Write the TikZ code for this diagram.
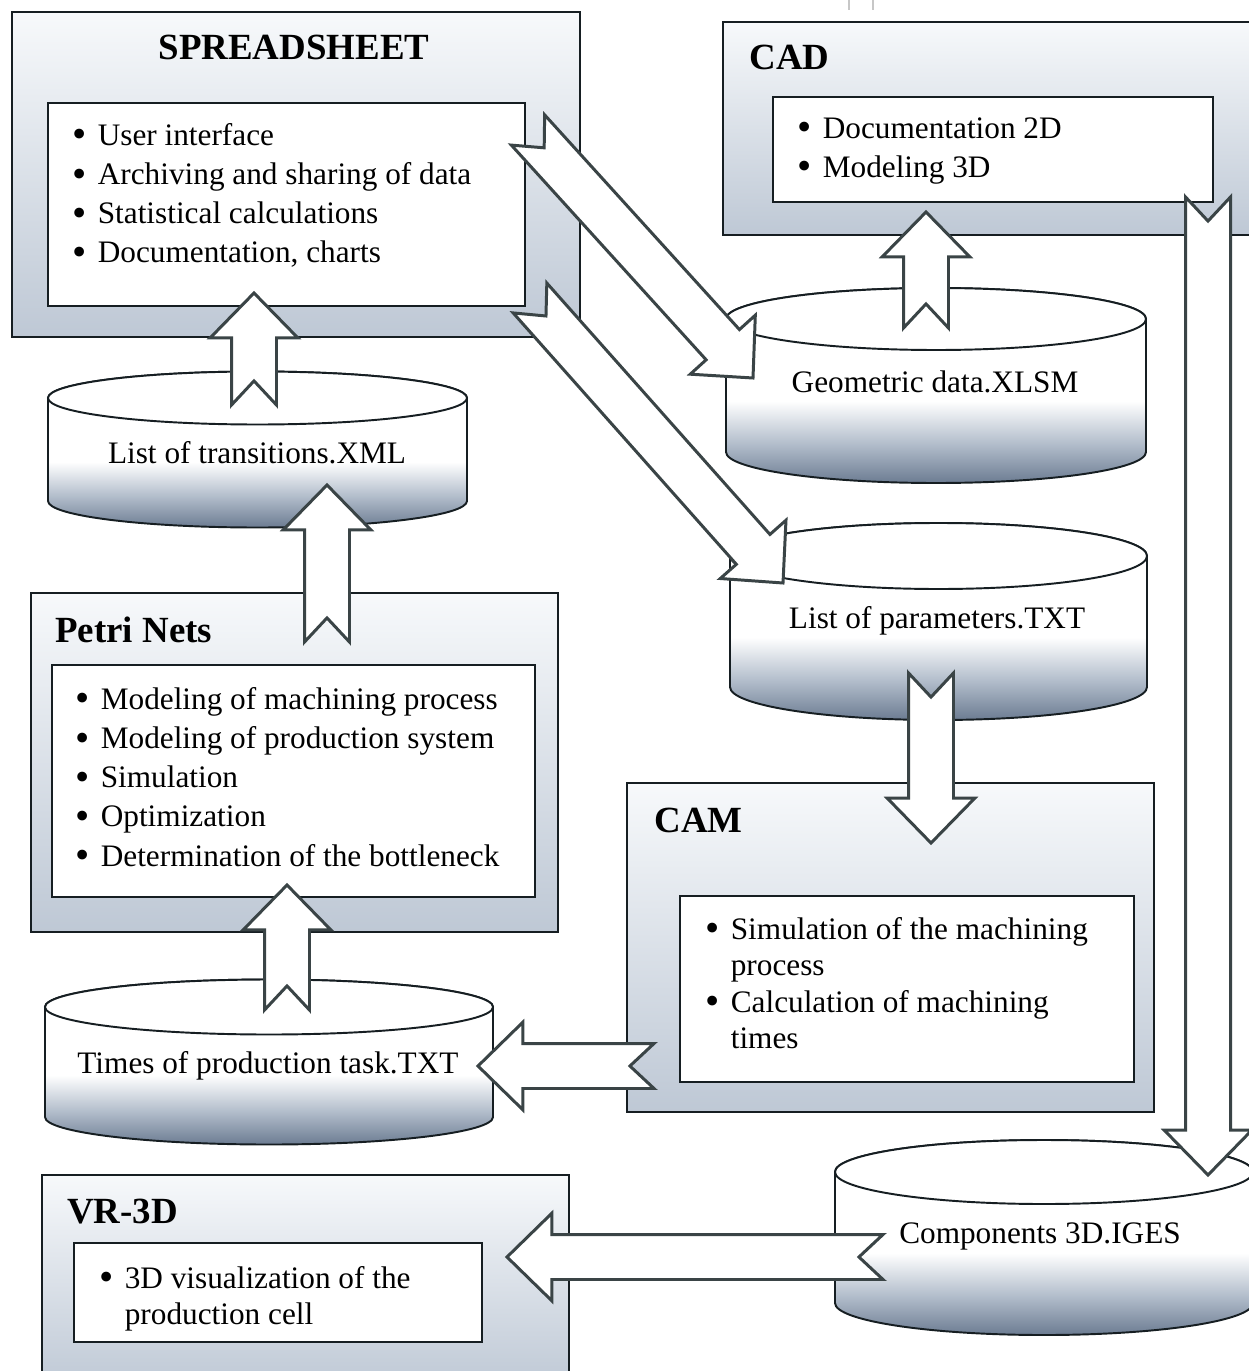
\documentclass[tikz,border=0pt]{standalone}
\usepackage{fontspec}
\usepackage{graphicx}
\setmainfont{Liberation Serif}
\usetikzlibrary{calc,fit}

\definecolor{boxtop}{RGB}{247,249,251}
\definecolor{boxbottom}{RGB}{190,200,213}
\definecolor{cylgray}{RGB}{108,124,146}
\definecolor{cylmid}{RGB}{178,189,203}
\definecolor{arrowgray}{RGB}{58,68,70}
\definecolor{edgegray}{RGB}{22,30,34}

\pgfdeclareverticalshading{cylshade}{100bp}{color(0bp)=(cylgray); color(25bp)=(cylgray); color(35bp)=(cylmid); color(46bp)=(white); color(100bp)=(white)}

\newcommand{\bul}{\makebox[14.5pt][l]{\raisebox{-1.4pt}{\scalebox{1.3}{\textbullet}}}}
\newcommand{\nobul}{\hspace*{14.5pt}}

% block arrow with a notched tail, from #1 (tail) to #2 (tip)
\newcommand{\notcharrow}[2]{%
  \path let \p1 = ($(#2)-(#1)$) in
    \pgfextra{%
      \pgfmathsetmacro{\arrang}{atan2(\y1,\x1)}%
      \pgfmathsetmacro{\arrlen}{veclen(\x1,\y1)}%
      \pgfmathsetmacro{\arrbase}{\arrlen-25.6}%
      \xdef\arrang{\arrang}\xdef\arrlen{\arrlen}\xdef\arrbase{\arrbase}};
  \draw[blockarrow, shift={(#1)}, rotate=\arrang]
    (0pt,12.8pt) -- (\arrbase pt,12.8pt) -- (\arrbase pt,25pt) -- (\arrlen pt,0pt)
    -- (\arrbase pt,-25pt) -- (\arrbase pt,-12.8pt) -- (0pt,-12.8pt) -- (13.7pt,0pt) -- cycle;}

% cylinder: centre x, top y, bottom y, x radius, y radius
\newcommand{\datastore}[5]{%
  \path[draw=edgegray, line width=1.1pt, shade, shading=cylshade]
    ({#1-#4},#2) -- ({#1-#4},#3) arc[start angle=180, end angle=0, x radius=#4, y radius=#5]
    -- ({#1+#4},#2) arc[start angle=0, end angle=-180, x radius=#4, y radius=#5] -- cycle;
  \draw[draw=edgegray, line width=1.1pt, fill=white] (#1,#2) ellipse[x radius=#4, y radius=#5];}

\begin{document}
\begin{tikzpicture}[x=0.02cm, y=-0.02cm, every node/.style={inner sep=0pt},
  outerbox/.style={draw=edgegray, line width=1.5pt, top color=boxtop, bottom color=boxbottom},
  innerbox/.style={draw=edgegray, line width=1.1pt, fill=white},
  title/.style={font=\fontsize{21}{25}\selectfont\bfseries},
  bullets/.style={align=left, anchor=north west, font=\fontsize{17.8}{22.3}\selectfont},
  label/.style={anchor=base, font=\fontsize{17.8}{21}\selectfont},
  blockarrow/.style={draw=arrowgray, line width=1.7pt, fill=white, line join=miter}]
\useasboundingbox (0,0) rectangle (1248,1371);

\draw[black!22, line width=0.6pt] (849,0) -- (849,10) (873,0) -- (873,10);

% boxes
\node[outerbox, fit={(12,12) (580,337)}] (sheet) {};
\node[innerbox, fit={(48,103) (525,306)}] (sheet-in) {};
\node[outerbox, fit={(723,22) (1262,235)}] (cad) {};
\node[innerbox, fit={(773,97) (1213,202)}] (cad-in) {};
\node[outerbox, fit={(31,593) (558,932)}] (petri) {};
\node[innerbox, fit={(52,665) (535,897)}] (petri-in) {};
\node[outerbox, fit={(627,783) (1154,1112)}] (cam) {};
\node[innerbox, fit={(680,896) (1134,1082)}] (cam-in) {};
\node[outerbox, fit={(42,1175) (569,1390)}] (vr) {};
\node[innerbox, fit={(74,1243) (482,1342)}] (vr-in) {};

\node[title, anchor=base] (sheet-t) at (294,60) {SPREADSHEET};
\node[title, anchor=base west] (cad-t) at (749,70) {CAD};
\node[title, anchor=base west] (petri-t) at (55,642) {Petri Nets};
\node[title, anchor=base west] (cam-t) at (654,832) {CAM};
\node[title, anchor=base west] (vr-t) at (67,1223) {VR-3D};

\node[bullets] (sheet-l) at (72,123) {\bul User interface\\ \bul Archiving and sharing of data\\
  \bul Statistical calculations\\ \bul Documentation, charts};
\node[bullets] (cad-l) at (797,117) {\bul Documentation 2D\\ \bul Modeling 3D};
\node[bullets] (petri-l) at (75,687) {\bul Modeling of machining process\\ \bul Modeling of production system\\
  \bul Simulation\\ \bul Optimization\\ \bul Determination of the bottleneck};
\node[bullets, font=\fontsize{17.8}{20.7}\selectfont] (cam-l) at (705,917) {\bul Simulation of the machining\\ \nobul process\\
  \bul Calculation of machining\\ \nobul times};
\node[bullets, font=\fontsize{17.8}{20.5}\selectfont] (vr-l) at (99,1266) {\bul 3D visualization of the\\ \nobul production cell};

% data files
\datastore{257.5}{398}{501}{209.5}{26.5}
\node[label] (trans) at (257,463) {List of transitions.XML};
\datastore{936}{319}{452}{210}{31}
\node[label] (geo) at (935,393) {Geometric data.XLSM};
\datastore{938.5}{556}{687}{208.5}{33}
\node[label] (param) at (937,628) {List of parameters.TXT};
\datastore{269}{1007}{1117}{224}{27.5}
\node[label] (times) at (268,1073) {Times of production task.TXT};
\datastore{1044}{1172}{1303}{209}{32}
\node[label] (comp) at (1040,1243) {Components 3D.IGES};

% arrows
\coordinate (T1) at (254,405);  \coordinate (H1) at (254,293);
\coordinate (T2) at (327,642);  \coordinate (H2) at (327,485);
\coordinate (T3) at (926,328);  \coordinate (H3) at (926,212);
\coordinate (T4) at (287,1010); \coordinate (H4) at (287,885);
\coordinate (T5) at (654,1066); \coordinate (H5) at (478,1066);
\coordinate (T6) at (883,1257); \coordinate (H6) at (507,1257);
\coordinate (T7) at (931,673);  \coordinate (H7) at (931,843);
\coordinate (T8) at (1208,197); \coordinate (H8) at (1208,1175);
\coordinate (T9) at (528,130);  \coordinate (H9) at (753,378);
\coordinate (T10) at (530,298); \coordinate (H10) at (783,583);

\foreach \i in {1,...,10} {\notcharrow{T\i}{H\i}}

\end{tikzpicture}
\end{document}
